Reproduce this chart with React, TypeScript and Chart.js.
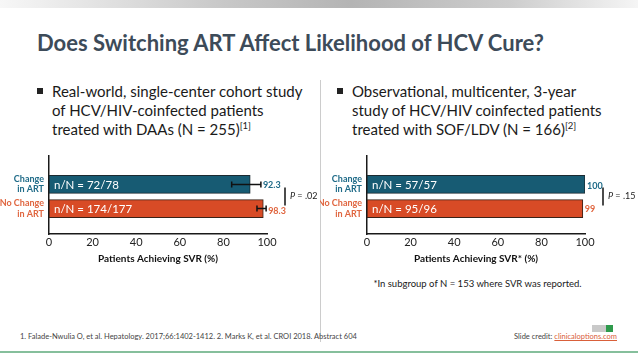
import React, { useEffect, useRef } from "react";
import { Chart, registerables } from "chart.js";

Chart.register(...registerables);

// ---------- data ----------
const categories: string[][] = [["Change", "in ART"], ["No Change", "in ART"]];
const xTicks = [0, 20, 40, 60, 80, 100];

const leftValues = [92.3, 98.3];
const leftErrLow = [83.8, 95.4];
const leftErrHigh = [97.2, 99.6];
const leftCounts = ["n/N = 72/78", "n/N = 174/177"];
const leftP = " = .02";
const leftAxisTitle = "Patients Achieving SVR (%)";

const rightValues = [100, 99];
const rightCounts = ["n/N = 57/57", "n/N = 95/96"];
const rightP = " = .15";
const rightAxisTitle = "Patients Achieving SVR* (%)";

const titleText = "Does Switching ART Affect Likelihood of HCV Cure?";
const leftBullet = ["Real-world, single-center cohort study", "of HCV/HIV-coinfected patients", "treated with DAAs (N = 255)"];
const leftRef = "[1]";
const rightBullet = ["Observational, multicenter, 3-year", "study of HCV/HIV coinfected patients", "treated with SOF/LDV (N = 166)"];
const rightRef = "[2]";
const footnote = "*In subgroup of N = 153 where SVR was reported.";
const references = "1. Falade-Nwulia O, et al. Hepatology. 2017;66:1402-1412. 2. Marks K, et al. CROI 2018. Abstract 604";

// ---------- style ----------
const FONT = "Lato";
const TEAL = "#175b73";
const ORANGE = "#d84b26";
const TEAL_TXT = "#1f6b88";
const ORANGE_TXT = "#e06640";
const barColors = [TEAL, ORANGE];
const labelColors = [TEAL_TXT, ORANGE_TXT];

type ChartProps = {
  values: number[];
  counts: string[];
  errLow?: number[];
  errHigh?: number[];
  pText: string;
  axisTitle: string;
  yWidth: number;
  rightPad: number;
  labelDy: number[];
  left: number;
  top: number;
  width: number;
  height: number;
};

function BarPanel(props: ChartProps) {
  const ref = useRef<HTMLCanvasElement | null>(null);
  useEffect(() => {
    const canvas = ref.current;
    if (!canvas) return;
    const { values, counts, errLow, errHigh, pText, axisTitle, yWidth, rightPad, labelDy } = props;

    const annot = {
      id: "annot",
      afterDatasetsDraw(chart: any) {
        const ctx = chart.ctx as CanvasRenderingContext2D;
        const meta = chart.getDatasetMeta(0);
        const xs = chart.scales.x;
        ctx.save();
        meta.data.forEach((bar: any, i: number) => {
          const { x, y, base } = bar.getProps(["x", "y", "base"], true);
          ctx.fillStyle = "#ffffff";
          ctx.font = `11.5px ${FONT}`;
          ctx.textAlign = "left";
          ctx.textBaseline = "middle";
          ctx.fillText(counts[i], base + 5, y + 1);
          let lx = x + 2;
          if (errLow && errHigh) {
            const lo = xs.getPixelForValue(errLow[i]);
            const hi = xs.getPixelForValue(errHigh[i]);
            ctx.strokeStyle = "#111";
            ctx.lineWidth = 1.5;
            ctx.beginPath();
            ctx.moveTo(lo, y);
            ctx.lineTo(hi, y);
            ctx.moveTo(lo, y - 3);
            ctx.lineTo(lo, y + 3);
            ctx.moveTo(hi, y - 3);
            ctx.lineTo(hi, y + 3);
            ctx.stroke();
            lx = hi + 2;
          }
          ctx.fillStyle = labelColors[i];
          ctx.font = `bold 9px ${FONT}`;
          ctx.fillText(String(values[i]), lx, y + labelDy[i]);
        });
        const y0 = meta.data[0].y;
        const y1 = meta.data[1].y;
        const bx = chart.chartArea.right + 18;
        ctx.strokeStyle = "#111";
        ctx.lineWidth = 1.5;
        ctx.beginPath();
        ctx.moveTo(bx, y0 + 3);
        ctx.lineTo(bx, y1 - 3);
        ctx.stroke();
        const ty = (y0 + y1) / 2;
        ctx.fillStyle = "#222";
        ctx.textAlign = "left";
        ctx.textBaseline = "middle";
        ctx.font = `italic 9px ${FONT}`;
        ctx.fillText("P", bx + 5, ty);
        const pw = ctx.measureText("P").width;
        ctx.font = `9px ${FONT}`;
        ctx.fillText(pText, bx + 5 + pw, ty);
        ctx.restore();
      },
    };

    const chart = new Chart(canvas, {
      type: "bar",
      data: {
        datasets: [
          {
            data: values.map((v, i) => ({ x: v, y: i })) as any,
            backgroundColor: barColors,
            borderColor: ["#1c2a31", "#3a2218"],
            borderWidth: 1,
            borderSkipped: false,
            barThickness: 18,
          },
        ],
      },
      options: {
        indexAxis: "y",
        responsive: false,
        maintainAspectRatio: false,
        animation: false,
        layout: { padding: { left: 0, top: 10, right: rightPad, bottom: 0 } },
        plugins: { legend: { display: false }, tooltip: { enabled: false } },
        scales: {
          x: {
            type: "linear",
            position: "bottom",
            min: 0,
            max: 100,
            offset: false,
            afterBuildTicks: (s: any) => {
              s.ticks = xTicks.map((v) => ({ value: v }));
            },
            grid: { display: false, drawTicks: false },
            border: { display: true, color: "#1a1a1a", width: 1.5 },
            ticks: { color: "#222", font: { family: FONT, size: 11 }, padding: 2, maxRotation: 0, autoSkip: false },
            title: {
              display: true,
              text: axisTitle,
              color: "#111",
              font: { family: FONT, size: 10, weight: "bold" },
              padding: { top: 0, bottom: 5 },
            },
            afterFit: (s: any) => {
              s.height = 36;
            },
          },
          y: {
            type: "linear",
            reverse: true,
            offset: false,
            bounds: "data",
            min: -1.2,
            max: 2.05,
            afterBuildTicks: (s: any) => {
              s.ticks = categories.map((_, i) => ({ value: i }));
            },
            grid: { display: false, drawTicks: false, offset: false },
            border: { display: true, color: "#1a1a1a", width: 1.5 },
            ticks: {
              autoSkip: false,
              padding: 5,
              callback: (v: any) => categories[Number(v)],
              color: (c: any) => labelColors[c.index] || "#222",
              font: { family: FONT, size: 9, weight: "bold", lineHeight: 1.15 },
            },
            afterFit: (s: any) => {
              s.width = yWidth;
            },
          },
        },
      } as any,
      plugins: [annot],
    });
    return () => chart.destroy();
  }, []);
  return (
    <canvas
      ref={ref}
      width={props.width}
      height={props.height}
      style={{ position: "absolute", left: props.left, top: props.top, width: props.width, height: props.height }}
    />
  );
}

function Bullet({ x, lines, refText }: { x: number; lines: string[]; refText: string }) {
  return (
    <>
      <div style={{ position: "absolute", left: x, top: 88, width: 6, height: 6, background: "#222" }} />
      {lines.map((t, i) => (
        <div
          key={i}
          style={{
            position: "absolute",
            left: x + 15,
            top: 82 + i * 19,
            fontFamily: FONT,
            fontSize: 15,
            lineHeight: "19px",
            color: "#1a1a1a",
            whiteSpace: "nowrap",
          }}
        >
          {t}
          {i === lines.length - 1 ? (
            <span style={{ fontSize: 9.5, position: "relative", top: -6 }}>{refText}</span>
          ) : null}
        </div>
      ))}
    </>
  );
}

export default function App() {
  return (
    <div style={{ position: "fixed", left: 0, top: 0, width: 638, height: 359, background: "#fff", overflow: "hidden" }}>
      <div
        style={{
          position: "absolute",
          left: 0,
          top: 0,
          width: 638,
          height: 8,
          background: "linear-gradient(to right, #f7f7f7 0%, #c8c8c8 35%, #b4b4b4 55%, #cdcdcd 80%, #f5f5f5 100%)",
        }}
      />
      <div
        style={{
          position: "absolute",
          left: 37,
          top: 30,
          fontFamily: FONT,
          fontWeight: 700,
          fontSize: 22,
          lineHeight: "26px",
          color: "#3d4b59",
          whiteSpace: "nowrap",
        }}
      >
        {titleText}
      </div>
      <Bullet x={37} lines={leftBullet} refText={leftRef} />
      <Bullet x={337} lines={rightBullet} refText={rightRef} />
      <div style={{ position: "absolute", left: 320, top: 80, width: 1, height: 262, background: "#cccccc" }} />

      <BarPanel
        values={leftValues}
        counts={leftCounts}
        errLow={leftErrLow}
        errHigh={leftErrHigh}
        pText={leftP}
        axisTitle={leftAxisTitle}
        yWidth={49}
        rightPad={53}
        labelDy={[1, 3]}
        left={0}
        top={140}
        width={320}
        height={130}
      />
      <BarPanel
        values={rightValues}
        counts={rightCounts}
        pText={rightP}
        axisTitle={rightAxisTitle}
        yWidth={47}
        rightPad={53}
        labelDy={[2, 1]}
        left={320}
        top={140}
        width={318}
        height={130}
      />

      <div
        style={{
          position: "absolute",
          left: 370,
          top: 277,
          width: 215,
          textAlign: "center",
          fontFamily: FONT,
          fontSize: 9.5,
          lineHeight: "14px",
          color: "#1a1a1a",
          whiteSpace: "nowrap",
        }}
      >
        {footnote}
      </div>

      <div
        style={{
          position: "absolute",
          left: 20,
          top: 331,
          fontFamily: FONT,
          fontSize: 7.5,
          lineHeight: "12px",
          color: "#444",
          whiteSpace: "nowrap",
        }}
      >
        {references}
      </div>
      <div
        style={{
          position: "absolute",
          right: 21,
          top: 331,
          fontFamily: FONT,
          fontSize: 7.5,
          lineHeight: "12px",
          color: "#444",
          whiteSpace: "nowrap",
        }}
      >
        Slide credit: <span style={{ color: "#d9603a", textDecoration: "underline" }}>clinicaloptions.com</span>
      </div>
      <div style={{ position: "absolute", left: 592, top: 325, width: 14, height: 7, background: "#c9c9c9" }} />
      <div style={{ position: "absolute", left: 606, top: 325, width: 7, height: 7, background: "#2e9a4c" }} />
      <div style={{ position: "absolute", left: 0, top: 351, width: 638, height: 2, background: "#86bf9c" }} />
    </div>
  );
}
